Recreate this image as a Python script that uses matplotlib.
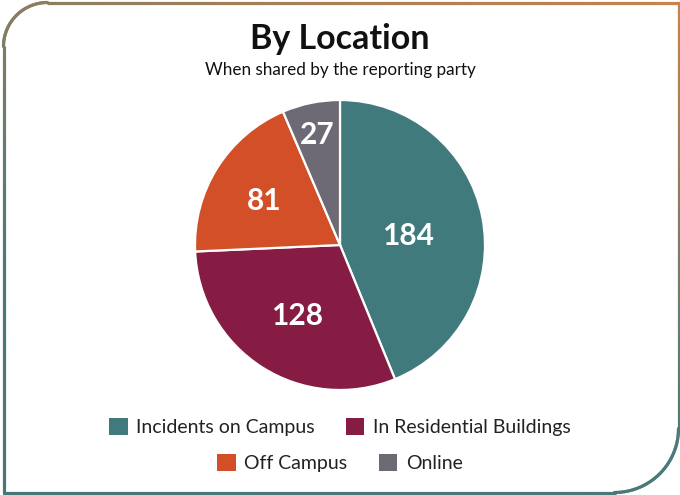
import numpy as np
import matplotlib
matplotlib.use("Agg")
import matplotlib.pyplot as plt
from matplotlib.collections import LineCollection
from matplotlib.colors import LinearSegmentedColormap
from matplotlib.patches import Rectangle
from matplotlib.transforms import offset_copy

categories = ["Incidents on Campus", "In Residential Buildings", "Off Campus", "Online"]
values = [184, 128, 81, 27]
colors = ["#417A7C", "#861C44", "#D24F27", "#6D6A75"]
label_dist = [0.48, 0.55, 0.62, 0.80]

title = "By Location"
subtitle = "When shared by the reporting party"

plt.rcParams['font.family'] = ['Lato', 'DejaVu Sans']

W, H = 680, 495
fig = plt.figure(figsize=(W / 100, H / 100), dpi=100)

# border overlay
bg = fig.add_axes([0, 0, 1, 1])
bg.set_xlim(0, W)
bg.set_ylim(H, 0)
bg.axis("off")

x0, x1, y0, y1 = 3.5, 678.5, 2.5, 492.5
r_tl, r_br = 44, 64
pts = []
for t in np.linspace(0, 1, 60):
    pts.append((x0 + r_tl + t * (x1 - x0 - r_tl), y0))
for t in np.linspace(0, 1, 60):
    pts.append((x1, y0 + t * (y1 - y0 - r_br)))
for a in np.linspace(0, np.pi / 2, 40):
    pts.append((x1 - r_br + r_br * np.cos(a), y1 - r_br + r_br * np.sin(a)))
for t in np.linspace(0, 1, 60):
    pts.append((x1 - r_br - t * (x1 - r_br - x0), y1))
for t in np.linspace(0, 1, 60):
    pts.append((x0, y1 - t * (y1 - y0 - r_tl)))
for a in np.linspace(np.pi, 1.5 * np.pi, 40):
    pts.append((x0 + r_tl + r_tl * np.cos(a), y0 + r_tl + r_tl * np.sin(a)))
pts = np.array(pts)
segs = np.stack([pts[:-1], pts[1:]], axis=1)
mid = segs.mean(axis=1)
tval = np.clip(0.72 * mid[:, 1] / H + 0.28 * (1 - mid[:, 0] / W), 0, 1)
cmap = LinearSegmentedColormap.from_list("b", ["#C8834A", "#7F7D66", "#4A7A7A", "#457878"])
lc = LineCollection(segs, colors=cmap(tval), linewidths=2.3, capstyle="round")
bg.add_collection(lc)

# titles
fig.text(0.5, 1 - 39 / H, title, ha="center", va="center", fontsize=24.5, fontweight="bold", color="#111111")
fig.text(0.5, 1 - 70 / H, subtitle, ha="center", va="center", fontsize=12.3, color="#111111")

# pie
cx, cy, R = 340, 245, 145
ax = fig.add_axes([(cx - R) / W, (H - cy - R) / H, 2 * R / W, 2 * R / H])
wedges, _ = ax.pie(values, colors=colors, startangle=90, counterclock=False,
                   wedgeprops=dict(edgecolor="white", linewidth=1.6))
ax.set_xlim(-1.0, 1.0)
ax.set_ylim(-1.0, 1.0)
ax.set_aspect("equal")
label_tr = offset_copy(ax.transData, fig=fig, x=0, y=-4, units="dots")
for w, v, d in zip(wedges, values, label_dist):
    ang = np.deg2rad((w.theta1 + w.theta2) / 2)
    ax.text(d * np.cos(ang), d * np.sin(ang), str(v), ha="center", va="center",
            fontsize=21.5, fontweight="bold", color="white", transform=label_tr)

# legends
handles = [Rectangle((0, 0), 1, 1, facecolor=c, edgecolor="none") for c in colors]
common = dict(frameon=False, fontsize=14, handlelength=0.95, handleheight=0.95,
              handletextpad=0.45, columnspacing=1.6, ncol=2, loc="center",
              labelcolor="#222222")
leg1 = fig.legend(handles[:2], categories[:2], bbox_to_anchor=(0.5, 1 - 427 / H), **common)
leg2 = fig.legend(handles[2:], categories[2:], bbox_to_anchor=(0.5, 1 - 463 / H), **common)

fig.savefig("out.png", dpi=100)
